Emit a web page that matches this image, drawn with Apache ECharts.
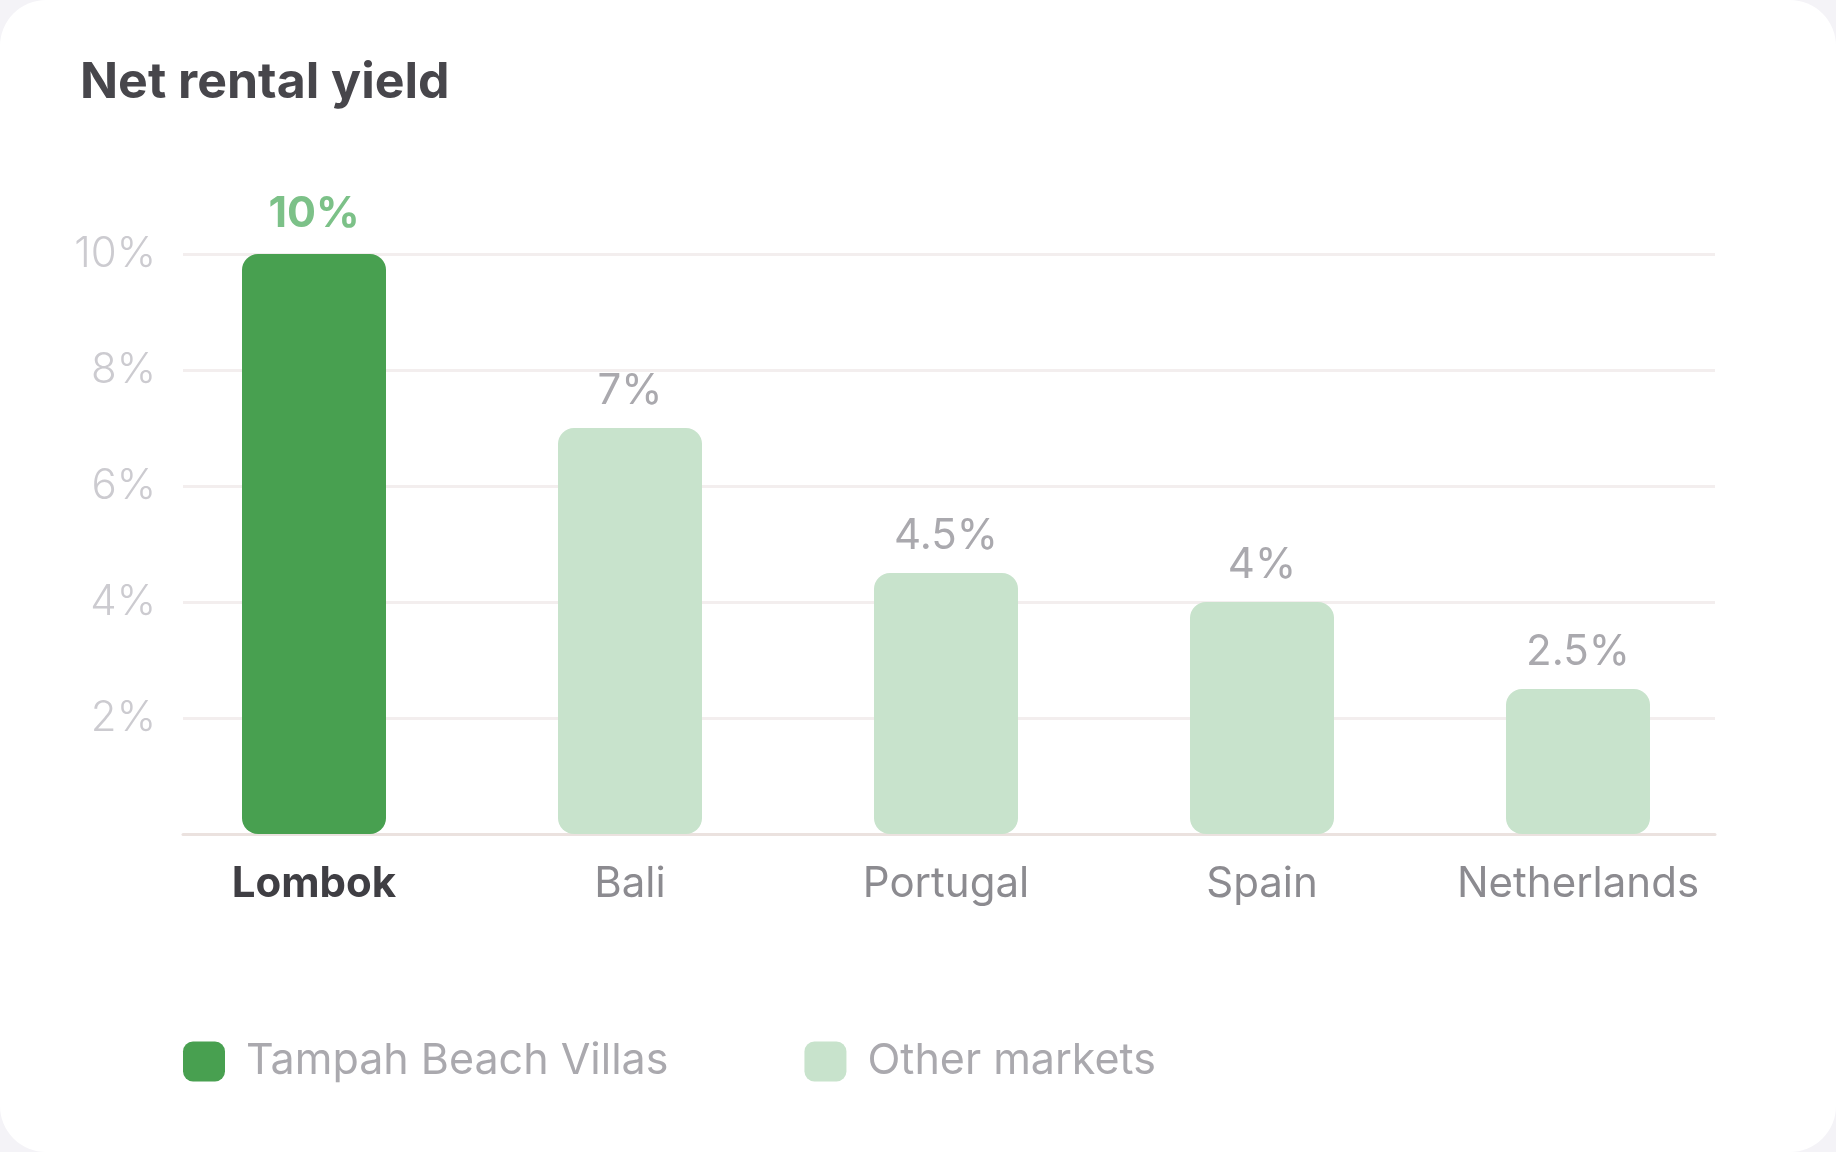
<!DOCTYPE html>
<html>
  <head>
    <meta charset="utf-8" />
    <title>Net rental yield</title>
    <script src="https://cdn.jsdelivr.net/npm/echarts@6/dist/echarts.min.js"></script>
    <style>
      html, body { margin: 0; padding: 0; background: #f4f3f7; }
      #card {
        width: 1836px; height: 1152px;
        background: #ffffff; border-radius: 46px; overflow: hidden;
      }
      #main { width: 1836px; height: 1152px; }
    </style>
  </head>
  <body>
    <div id="card"><div id="main"></div></div>
    <script type="text/javascript">
      // chart data
      var categories = ["Lombok", "Bali", "Portugal", "Spain", "Netherlands"];
      var yieldValues = [10, 7, 4.5, 4, 2.5];
      var highlightIndex = 0; // the property's own market
      var seriesNames = ["Tampah Beach Villas", "Other markets"];
      var yTicks = [0, 2, 4, 6, 8, 10];

      var FONT = "Inter";
      var darkGreen = "#48a050";
      var lightGreen = "#c8e3cc";

      // split the values into the two legend series
      var ownData = [];
      var otherData = [];
      for (var i = 0; i < yieldValues.length; i++) {
        ownData.push(i === highlightIndex ? yieldValues[i] : null);
        otherData.push(i === highlightIndex ? null : yieldValues[i]);
      }

      var myChart = echarts.init(document.getElementById("main"), null, { renderer: "canvas" });

      var option = {
        animation: false,
        title: {
          text: "Net rental yield",
          left: 80,
          top: 58,
          padding: 0,
          textStyle: {
            fontFamily: FONT,
            fontSize: 50,
            fontWeight: 700,
            color: "#47464b",
            lineHeight: 50,
          },
        },
        legend: {
          data: seriesNames,
          left: 183,
          top: 1040,
          padding: 0,
          icon: "roundRect",
          itemWidth: 42,
          itemHeight: 40,
          itemGap: 136,
          textStyle: {
            fontFamily: FONT,
            fontSize: 43,
            color: "#aaa9ae",
            padding: [0, 0, 0, 16],
          },
        },
        grid: [
          { left: 183, right: 121, top: 254, bottom: 318 },
          { left: 156, right: 100, top: 254, bottom: 318 },
        ],
        xAxis: [
          {
            type: "category",
            gridIndex: 0,
            data: categories,
            axisLine: { lineStyle: { color: "#ebe2df", width: 3 } },
            axisTick: { show: false },
            axisLabel: { show: false },
          },
          {
            type: "category",
            gridIndex: 1,
            data: categories,
            axisLine: { show: false },
            axisTick: { show: false },
            axisLabel: {
              margin: 29,
              formatter: function (v, idx) {
                return idx === highlightIndex ? "{hl|" + v + "}" : "{n|" + v + "}";
              },
              rich: {
                hl: { fontFamily: FONT, fontSize: 42, fontWeight: 700, color: "#3f3e43" },
                n: { fontFamily: FONT, fontSize: 42, fontWeight: 400, color: "#8c8b90" },
              },
            },
          },
        ],
        yAxis: [
          {
            type: "value",
            gridIndex: 0,
            min: yTicks[0],
            max: yTicks[yTicks.length - 1],
            interval: yTicks[1] - yTicks[0],
            axisLine: { show: false },
            axisTick: { show: false },
            splitLine: { lineStyle: { color: "#f3eeee", width: 3 } },
            axisLabel: {
              margin: 27,
              fontFamily: FONT,
              fontSize: 42,
              fontWeight: 300,
              color: "#cccbd0",
              formatter: function (v) {
                return v === 0 ? "" : v + "%";
              },
            },
          },
          {
            type: "value",
            gridIndex: 1,
            min: yTicks[0],
            max: yTicks[yTicks.length - 1],
            show: false,
            splitLine: { show: false },
          },
        ],
        series: [
          {
            name: seriesNames[0],
            type: "bar",
            xAxisIndex: 1,
            yAxisIndex: 1,
            data: ownData,
            barWidth: 144,
            barGap: "-100%",
            itemStyle: { color: darkGreen, borderRadius: 16 },
            label: {
              show: true,
              position: "top",
              distance: 18,
              fontFamily: FONT,
              fontSize: 43,
              fontWeight: 700,
              color: "#7cc188",
              formatter: function (p) { return p.value + "%"; },
            },
          },
          {
            name: seriesNames[1],
            type: "bar",
            xAxisIndex: 1,
            yAxisIndex: 1,
            data: otherData,
            barWidth: 144,
            barGap: "-100%",
            itemStyle: { color: lightGreen, borderRadius: 16 },
            label: {
              show: true,
              position: "top",
              distance: 16,
              fontFamily: FONT,
              fontSize: 42,
              fontWeight: 400,
              color: "#aaa9ae",
              formatter: function (p) { return p.value + "%"; },
            },
          },
        ],
      };

      myChart.setOption(option);
    </script>
  </body>
</html>
